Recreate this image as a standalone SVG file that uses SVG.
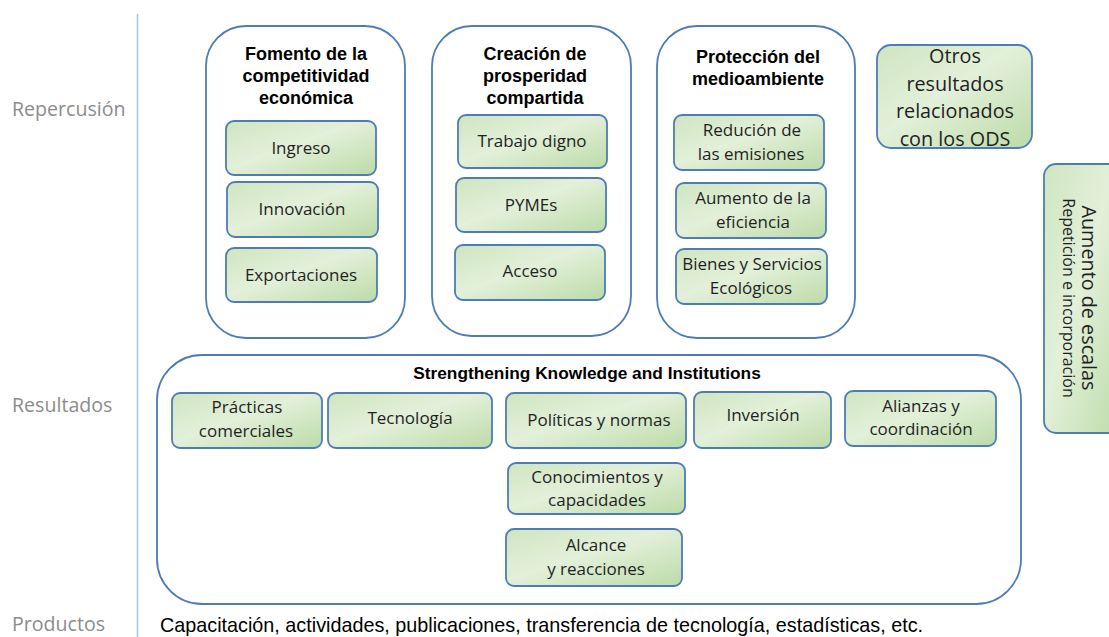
<svg xmlns="http://www.w3.org/2000/svg" width="1109" height="637" viewBox="0 0 1109 637">
<defs>
<linearGradient id="g" x1="0" y1="0" x2="1" y2="1">
<stop offset="0" stop-color="#cfe5c0"/>
<stop offset="0.45" stop-color="#e3f0da"/>
<stop offset="1" stop-color="#bcdba8"/>
</linearGradient>
</defs>
<style>
.big{fill:#fff;stroke:#4d7db4;stroke-width:1.8}
.box{fill:url(#g);stroke:#4d7db4;stroke-width:1.8}
.lbl{font-family:"Open Sans","Liberation Sans",sans-serif;font-size:19.6px;fill:#8c8c8c}
.t{font-family:"Open Sans","Liberation Sans",sans-serif;font-size:17px;fill:#1f1f1f;text-anchor:middle}
.o{font-size:19.8px}
.h{font-family:"Liberation Sans",Arial,sans-serif;font-weight:bold;font-size:18px;fill:#000;text-anchor:middle}
</style>
<line x1="137.5" y1="14" x2="137.5" y2="637" stroke="#a9c4e2" stroke-width="1.5"/>
<text class="lbl" x="12" y="116">Repercusión</text>
<text class="lbl" x="12" y="412">Resultados</text>
<text class="lbl" x="12" y="631">Productos</text>

<g id="fomento">
<rect class="big" x="206" y="26" width="199" height="312" rx="40"/>
<text class="h" x="306" y="60">Fomento de la</text>
<text class="h" x="306" y="82">competitividad</text>
<text class="h" x="306" y="104">económica</text>
<g id="ingreso"><rect class="box" x="226" y="121" width="150" height="54" rx="8"/><text class="t" x="301" y="154">Ingreso</text></g>
<g id="innovacion"><rect class="box" x="227" y="182" width="151" height="55" rx="8"/><text class="t" x="302" y="215">Innovación</text></g>
<g id="exportaciones"><rect class="box" x="226" y="248" width="151" height="54" rx="8"/><text class="t" x="301" y="281">Exportaciones</text></g>
</g>

<g id="creacion">
<rect class="big" x="432" y="26" width="199" height="310" rx="40"/>
<text class="h" x="535" y="60">Creación de</text>
<text class="h" x="535" y="82">prosperidad</text>
<text class="h" x="535" y="104">compartida</text>
<g id="trabajo"><rect class="box" x="458" y="115" width="149" height="53" rx="8"/><text class="t" x="532" y="147">Trabajo digno</text></g>
<g id="pymes"><rect class="box" x="456" y="178" width="150" height="54" rx="8"/><text class="t" x="531" y="211">PYMEs</text></g>
<g id="acceso"><rect class="box" x="455" y="245" width="150" height="55" rx="8"/><text class="t" x="530" y="277">Acceso</text></g>
</g>

<g id="proteccion">
<rect class="big" x="657" y="26" width="198" height="312" rx="40"/>
<text class="h" x="758" y="63">Protección del</text>
<text class="h" x="758" y="85">medioambiente</text>
<g id="redu"><rect class="box" x="674" y="115" width="150" height="55" rx="8"/><text class="t" x="752" y="136">Redución de</text><text class="t" x="751" y="160">las emisiones</text></g>
<g id="aumento"><rect class="box" x="676" y="183" width="150" height="55" rx="8"/><text class="t" x="753" y="204">Aumento de la</text><text class="t" x="753" y="228">eficiencia</text></g>
<g id="bienes"><rect class="box" x="676" y="249" width="151" height="55" rx="8"/><text class="t" x="752" y="270">Bienes y Servicios</text><text class="t" x="751" y="294">Ecológicos</text></g>
</g>

<g id="otros">
<rect class="box" x="877" y="45" width="155" height="103" rx="14"/>
<text class="t o" x="955" y="63">Otros</text>
<text class="t o" x="955" y="91">resultados</text>
<text class="t o" x="955" y="118">relacionados</text>
<text class="t o" x="955" y="146">con los ODS</text>
</g>

<g id="escalas">
<rect class="box" x="1044" y="164" width="80" height="269" rx="12"/>
<text class="t o" transform="translate(1082 298) rotate(90)">Aumento de escalas</text>
<text class="t" transform="translate(1063 298) rotate(90)" style="font-size:16px">Repetición e incorporación</text>
</g>

<g id="strengthening">
<rect class="big" x="157" y="355" width="864" height="249" rx="45"/>
<text class="h" x="587" y="379" style="font-size:17.3px">Strengthening Knowledge and Institutions</text>
<g id="practicas"><rect class="box" x="172" y="393" width="150" height="55" rx="8"/><text class="t" x="247" y="413">Prácticas</text><text class="t" x="246" y="437">comerciales</text></g>
<g id="tecnologia"><rect class="box" x="328" y="393" width="164" height="55" rx="8"/><text class="t" x="410" y="424">Tecnología</text></g>
<g id="politicas"><rect class="box" x="506" y="393" width="180" height="55" rx="8"/><text class="t" x="599" y="426">Políticas y normas</text></g>
<g id="inversion"><rect class="box" x="694" y="392" width="137" height="56" rx="8"/><text class="t" x="763" y="421">Inversión</text></g>
<g id="alianzas"><rect class="box" x="845" y="391" width="151" height="55" rx="8"/><text class="t" x="921" y="412">Alianzas y</text><text class="t" x="921" y="435">coordinación</text></g>
<g id="conocimientos"><rect class="box" x="508" y="463" width="177" height="51" rx="8"/><text class="t" x="597" y="483">Conocimientos y</text><text class="t" x="597" y="506">capacidades</text></g>
<g id="alcance"><rect class="box" x="506" y="529" width="176" height="57" rx="8"/><text class="t" x="596" y="551">Alcance</text><text class="t" x="596" y="575">y reacciones</text></g>
</g>

<text x="160" y="632" style="font-family:'Liberation Sans',Arial,sans-serif;font-size:19.8px;fill:#000">Capacitación, actividades, publicaciones, transferencia de tecnología, estadísticas, etc.</text>
</svg>
